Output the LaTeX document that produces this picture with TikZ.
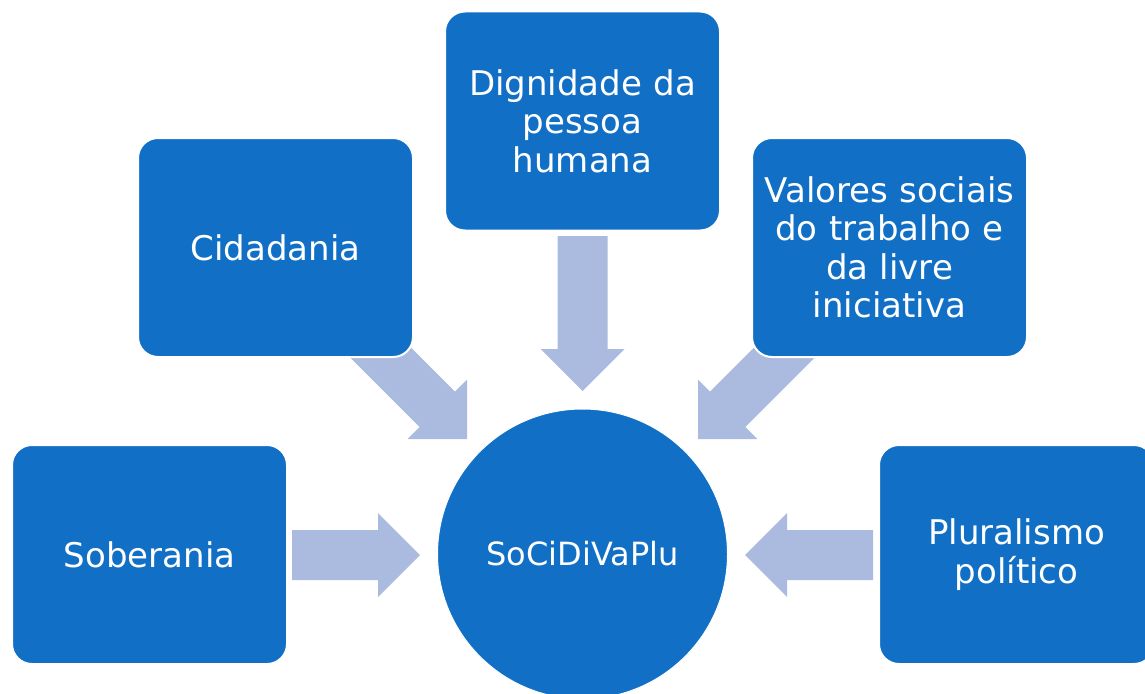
\documentclass[tikz,border=0pt]{standalone}
\usepackage{fontspec}
\setmainfont{DejaVu Sans}
\definecolor{boxblue}{RGB}{17,112,198}
\definecolor{arrowblue}{RGB}{171,187,223}
\newcommand{\myblockarrow}[4]{% name, tail, angle, shaft length
  \fill[arrowfill, shift={#2}, rotate=#3] (0,-25) -- (#4,-25) -- (#4,-42) -- ({#4+42},0) -- (#4,42) -- (#4,25) -- (0,25) -- cycle;
  \coordinate (#1) at #2;}
\begin{document}
\begin{tikzpicture}[x=1pt,y=-1pt,
  arrowfill/.style={fill=arrowblue},
  bigbox/.style={rectangle, rounded corners=20pt, fill=boxblue, draw=white, line width=2pt,
    minimum width=275pt, minimum height=219pt, text width=262pt, align=center,
    text=white, font=\fontsize{34}{38.5}\selectfont, inner sep=0pt},
  hub/.style={circle, fill=boxblue, draw=white, line width=1pt, minimum size=290pt,
    text=white, font=\fontsize{32}{36}\selectfont, inner sep=0pt}]
\useasboundingbox (0,0) rectangle (1145,693);
\clip (0,0) rectangle (1145,693);
% block arrows (behind the boxes)
\myblockarrow{aSob}{(292,555)}{0}{86}
\myblockarrow{aCid}{(366.6,338.6)}{-45}{100}
\myblockarrow{aDig}{(582.5,236)}{-90}{113}
\myblockarrow{aVal}{(798.4,338.6)}{-135}{100}
\myblockarrow{aPlu}{(873,555)}{180}{86}
% boxes
\node[bigbox] (dig) at (582.5,121) {Dignidade da\\pessoa\\humana};
\node[bigbox] (cid) at (275.5,247.5) {Cidadania};
\node[bigbox] (val) at (889.5,247.5) {Valores sociais\\do trabalho e\\da livre\\iniciativa};
\node[bigbox] (sob) at (149.5,554.5) {Soberania};
\node[bigbox] (plu) at (1016.5,554.5) {Pluralismo\\político};
% centre
\node[hub] (hubc) at (582.5,554) {SoCiDiVaPlu};
\end{tikzpicture}
\end{document}
